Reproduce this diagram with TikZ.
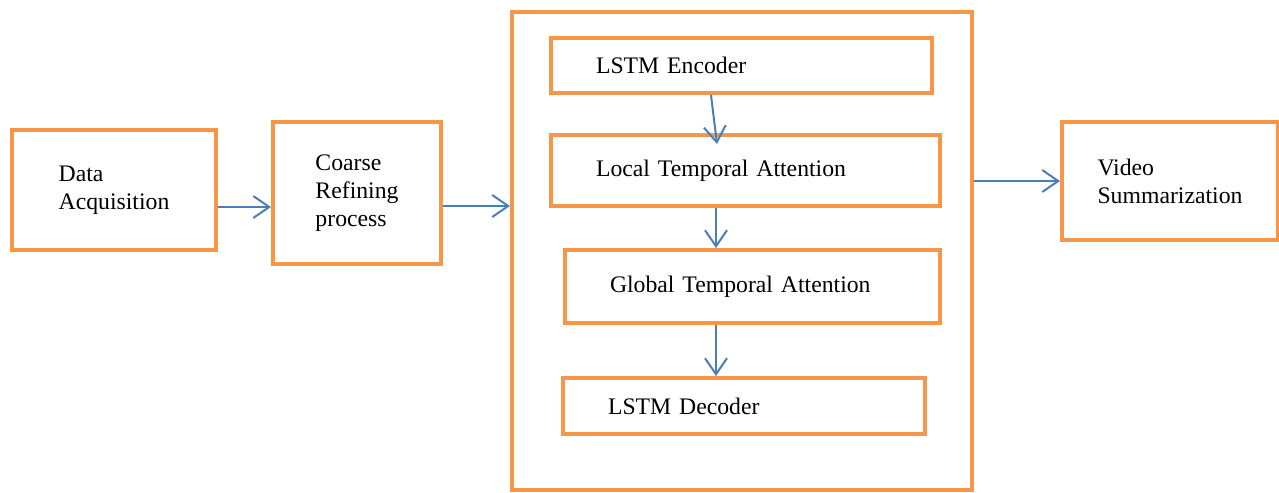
\documentclass[tikz,border=0pt]{standalone}
\usepackage{fontspec}
\setmainfont{Liberation Serif}
\usepackage{tikz}
\usetikzlibrary{arrows.meta}
\definecolor{boxorange}{HTML}{F79646}
\definecolor{flowblue}{HTML}{4A7EBB}
\begin{document}
\begin{tikzpicture}[
    font=\fontsize{13.5}{16}\selectfont,
    block/.style={draw=boxorange, line width=0.08cm, align=left, inner sep=0pt},
    stage/.style={block, inner xsep=0.9cm, inner ysep=0pt},
    flow/.style={draw=flowblue, line width=0.04cm, -{Straight Barb[length=3.2mm,width=4.4mm]}}
  ]
    \useasboundingbox (0,0) rectangle (25.58,9.84);
    \node [block, minimum width=4.08cm, minimum height=2.4cm] (acq) at (2.28,6.04) {Data\\Acquisition};
    \node [block, minimum width=3.36cm, minimum height=2.84cm] (coarse) at (7.14,5.98) {Coarse\\Refining\\process};
    \node [block, minimum width=9.2cm, minimum height=9.56cm] (frame) at (14.84,4.82) {};
    \node [stage, text width=5.82cm, minimum height=1.1cm] (enc) at (14.83,8.53) {LSTM Encoder};
    \node [stage, text width=5.98cm, minimum height=1.42cm] (local) at (14.91,6.43) {Local Temporal Attention};
    \node [stage, text width=5.70cm, minimum height=1.46cm] (global) at (15.05,4.11) {Global Temporal Attention};
    \node [stage, text width=5.44cm, minimum height=1.12cm] (dec) at (14.88,1.72) {LSTM Decoder};
    \node [block, minimum width=4.32cm, minimum height=2.36cm] (video) at (23.40,6.22) {Video\\Summarization};

    \draw [flow] ([yshift=-0.34cm]acq.east) -- ([yshift=-0.34cm]acq.east -| coarse.west);
    \draw [flow] ([yshift=-0.26cm]coarse.east) -- ([yshift=-0.26cm]coarse.east -| frame.west);
    \draw [flow] (frame.east |- video.west) -- (video.west);
    \draw [flow] ([xshift=-0.61cm]enc.south) -- ([xshift=-0.57cm,yshift=-0.22cm]local.north);
    \draw [flow] ([xshift=-0.59cm]local.south) -- ([xshift=-0.59cm]local.south |- global.north);
    \draw [flow] ([xshift=-0.73cm]global.south) -- ([xshift=-0.73cm]global.south |- dec.north);
\end{tikzpicture}
\end{document}
